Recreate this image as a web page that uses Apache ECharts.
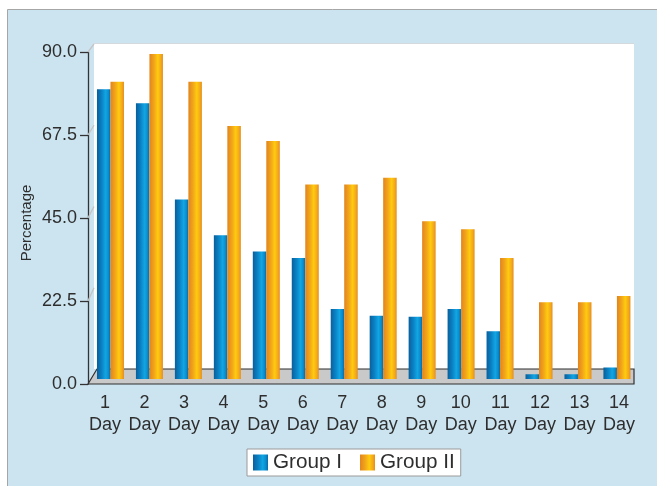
<!DOCTYPE html>
<html>
<head>
<meta charset="utf-8">
<script src="https://cdn.jsdelivr.net/npm/echarts@6/dist/echarts.min.js"></script>
<style>html,body{margin:0;padding:0;background:#fff;}#c{width:657px;height:486px;}</style>
</head>
<body>
<div id="c"></div>
<script>
const categories = ['1','2','3','4','5','6','7','8','9','10','11','12','13','14'];
const categoryLabels = ['1\nDay','2\nDay','3\nDay','4\nDay','5\nDay','6\nDay','7\nDay','8\nDay','9\nDay','10\nDay','11\nDay','12\nDay','13\nDay','14\nDay'];
const groupI  = [78.8, 75.0, 48.8, 39.1, 34.7, 32.9, 19.0, 17.2, 16.9, 19.0, 13.0, 1.3, 1.3, 3.1];
const groupII = [80.8, 88.4, 80.8, 68.8, 64.7, 52.9, 52.9, 54.7, 42.9, 40.7, 32.9, 20.9, 20.9, 22.6];
const yTicks = [0, 22.5, 45, 67.5, 90];
const seriesNames = ['Group I', 'Group II'];

const FONT = '"Liberation Sans", Arial, sans-serif';
const TXT = '#2e2e2e';

const blueGrad = new echarts.graphic.LinearGradient(0, 0, 1, 0, [
  {offset: 0, color: '#0a5f9c'},
  {offset: 0.35, color: '#0a82c4'},
  {offset: 0.65, color: '#12a6e4'},
  {offset: 0.85, color: '#0b8ccc'},
  {offset: 1, color: '#0a68a8'}
]);
const orangeGrad = new echarts.graphic.LinearGradient(0, 0, 1, 0, [
  {offset: 0, color: '#e2841e'},
  {offset: 0.35, color: '#f2a61a'},
  {offset: 0.62, color: '#ffcb0e'},
  {offset: 0.85, color: '#f4aa1a'},
  {offset: 1, color: '#e58c1e'}
]);

const chart = echarts.init(document.getElementById('c'), null, {renderer: 'canvas'});

const yMin = yTicks[0], yMax = yTicks[yTicks.length - 1], yStep = yTicks[1] - yTicks[0];

const option = {
  animation: false,
  backgroundColor: '#ffffff',
  textStyle: {fontFamily: FONT},
  grid: [
    {left: 94, top: 44, width: 540, height: 325, show: true, backgroundColor: '#ffffff', borderWidth: 0, z: 1},
    {left: 91, top: 48, width: 545.4, height: 331},
    {left: 88, top: 52, width: 546, height: 332},
    {left: 85.2, top: 52, width: 553.6, height: 332}
  ],
  xAxis: [
    {gridIndex: 0, type: 'category', data: categories, show: false},
    {gridIndex: 1, type: 'category', data: categories, show: false},
    {gridIndex: 2, type: 'category', data: categories, show: false},
    {gridIndex: 3, type: 'category', data: categoryLabels,
      axisLine: {show: false}, axisTick: {show: false}, splitLine: {show: false},
      axisLabel: {show: true, interval: 0, margin: 8, color: TXT, fontSize: 18, lineHeight: 22, fontFamily: FONT}}
  ],
  yAxis: [
    {gridIndex: 0, type: 'value', min: yMin, max: yMax, interval: yStep,
      axisLine: {show: false}, axisTick: {show: false}, axisLabel: {show: false},
      splitLine: {show: true, lineStyle: {color: '#d6d6d6', width: 1.5}}},
    {gridIndex: 1, type: 'value', min: yMin, max: yMax, show: false, splitLine: {show: false}},
    {gridIndex: 2, type: 'value', min: yMin, max: yMax, interval: yStep,
      axisLine: {show: true, lineStyle: {color: '#333', width: 1.3}},
      axisTick: {show: true, length: 8, lineStyle: {color: '#333', width: 1.3}},
      axisLabel: {show: true, margin: 11, color: TXT, fontSize: 18, fontFamily: FONT,
        formatter: v => v.toFixed(1)},
      splitLine: {show: false}},
    {gridIndex: 3, type: 'value', min: yMin, max: yMax, show: false, splitLine: {show: false}}
  ],
  legend: {
    data: seriesNames,
    left: 247, top: 449,
    itemWidth: 15, itemHeight: 16, itemGap: 18,
    padding: [3, 6],
    borderColor: '#9a9a9a', borderWidth: 1, backgroundColor: '#ffffff',
    textStyle: {color: TXT, fontSize: 20.7, lineHeight: 20, fontFamily: FONT},
    icon: 'rect'
  },
  series: [
    {name: seriesNames[0], type: 'bar', xAxisIndex: 1, yAxisIndex: 1, data: groupI,
      barWidth: 13.5, barGap: '0%', z: 5, itemStyle: {color: blueGrad}},
    {name: seriesNames[1], type: 'bar', xAxisIndex: 1, yAxisIndex: 1, data: groupII,
      barWidth: 13.5, barGap: '0%', z: 5, itemStyle: {color: orangeGrad}}
  ]
};
chart.setOption(option);

// decorations: panel, floor, 3D connectors, axis title
const fx = 88, bx = 94;
const graphics = [
  {type: 'rect', z: -10, silent: true, shape: {x: 7.5, y: 9.5, width: 700, height: 520},
    style: {fill: '#cce4f0', stroke: '#a6a6a6', lineWidth: 1}}
];
const yFront0 = chart.convertToPixel({yAxisIndex: 2}, yMin);
const yBack0 = chart.convertToPixel({yAxisIndex: 0}, yMin);
graphics.push({type: 'polygon', z: 2, silent: true,
  shape: {points: [[fx, yFront0], [bx + 3, yBack0], [634, yBack0], [634, yFront0]]},
  style: {fill: '#c9c9c9', stroke: '#2f2f2f', lineWidth: 1.2}});
yTicks.forEach(function (v) {
  if (v === yMin) return;
  const yf = chart.convertToPixel({yAxisIndex: 2}, v);
  const yb = chart.convertToPixel({yAxisIndex: 0}, v);
  graphics.push({type: 'line', z: 2, silent: true,
    shape: {x1: fx, y1: yf, x2: bx, y2: yb},
    style: {stroke: '#c4c4c4', lineWidth: 1.3}});
});
graphics.push({type: 'text', z: 10, silent: true, x: 27, y: 223, rotation: Math.PI / 2,
  style: {text: 'Percentage', fill: TXT, font: '15px ' + FONT, textAlign: 'center', textVerticalAlign: 'middle'}});
chart.setOption({graphic: {elements: graphics}});
</script>
</body>
</html>
